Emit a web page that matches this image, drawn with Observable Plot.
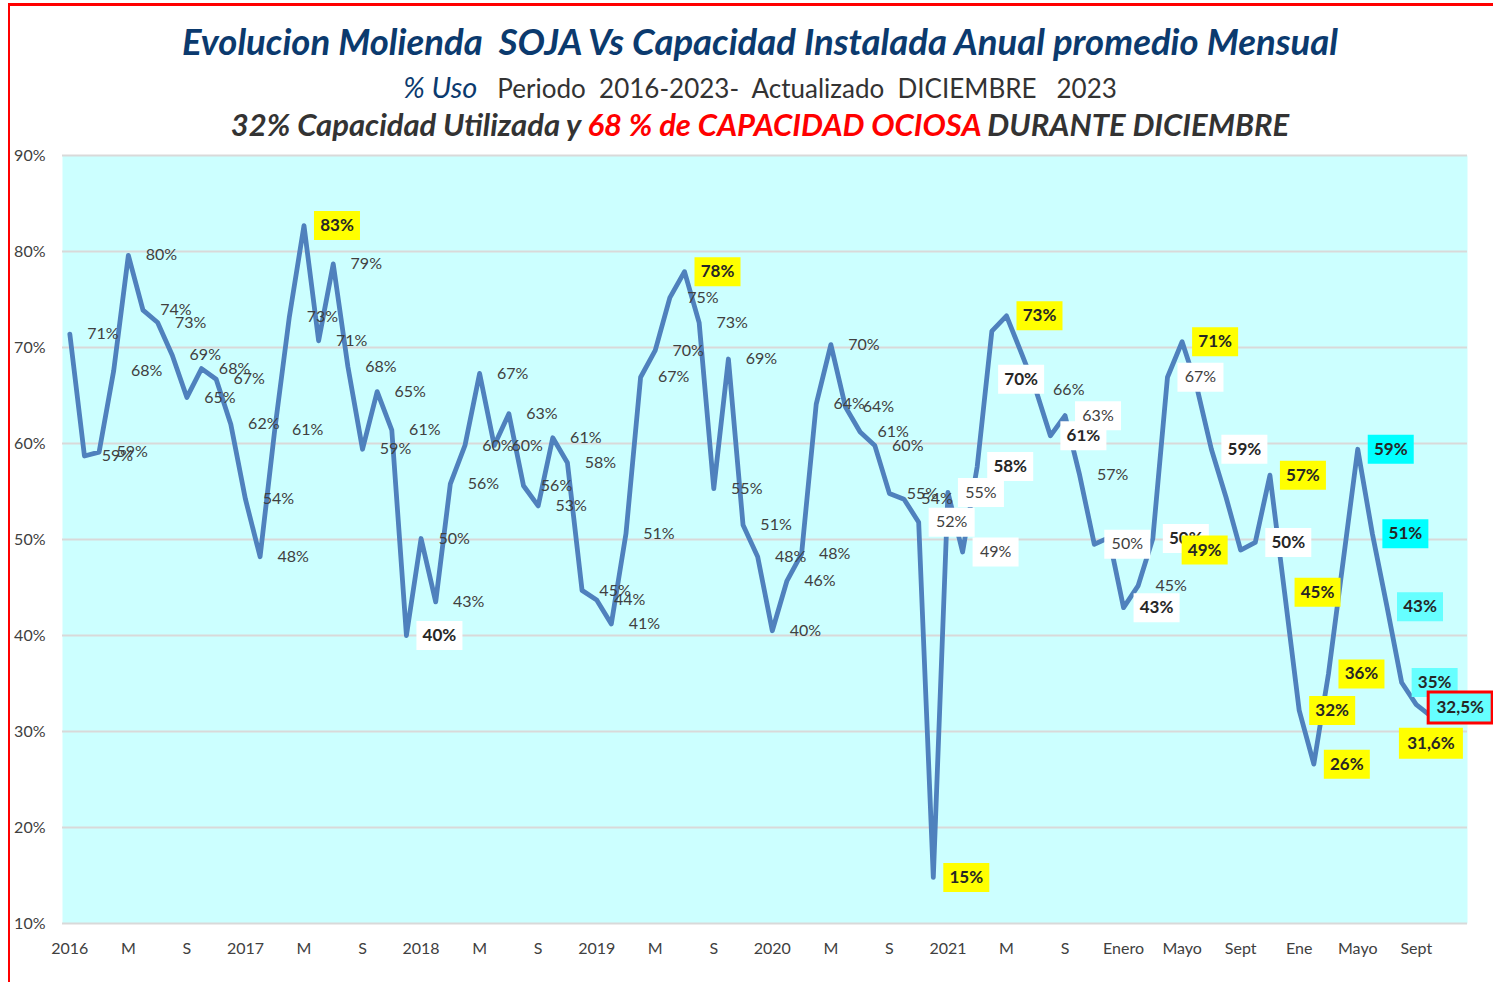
<!DOCTYPE html>
<html>
<head>
<meta charset="utf-8">
<script src="https://cdn.jsdelivr.net/npm/d3@7"></script>
<script src="https://cdn.jsdelivr.net/npm/@observablehq/plot@0.6"></script>
<style>
  html, body { margin: 0; padding: 0; background: #fff; }
  #page { position: relative; width: 1493px; height: 982px; overflow: hidden; font-family: Lato, "Open Sans", sans-serif; }
  .bar-top { position: absolute; left: 8px; top: 3px; width: 1485px; height: 2.5px; background: #ff0000; }
  .bar-left { position: absolute; left: 7.5px; top: 3px; width: 2.5px; height: 979px; background: #ff0000; }
  .t { position: absolute; left: 0; width: 1520px; text-align: center; white-space: pre; line-height: 1.2; }
  #t1 { top: 20px; font-size: 36.5px; font-weight: 700; font-style: italic; color: #0b3a6e; }
  #t2 { top: 70px; font-size: 26px; color: #333; }
  #t2 .uso { font-style: italic; color: #0b3a6e; font-size: 29px; }
  #t3 { top: 106px; font-size: 31px; font-weight: 700; font-style: italic; color: #333; }
  #t3 .red { color: #ff0000; }
  #chart { position: absolute; left: 0; top: 140px; }
</style>
</head>
<body>
<div id="page">
  <div class="bar-top"></div>
  <div class="bar-left"></div>
  <div class="t" id="t1">Evolucion Molienda  SOJA Vs Capacidad Instalada Anual promedio Mensual</div>
  <div class="t" id="t2"><span class="uso">% Uso</span>   Periodo  2016-2023-  Actualizado  DICIEMBRE   2023</div>
  <div class="t" id="t3">32% Capacidad Utilizada y <span class="red">68 % de CAPACIDAD OCIOSA</span> DURANTE DICIEMBRE</div>
  <div id="chart"></div>
</div>
<script>
// Monthly soybean crushing capacity use (%), Jan 2016 .. Dec 2023
const usoMensual = [
  71.4, 58.7, 59.1, 67.6, 79.6, 73.9, 72.6, 69.2, 64.8, 67.8, 66.7, 62.0,
  54.2, 48.2, 61.4, 73.2, 82.7, 70.7, 78.7, 68.0, 59.4, 65.4, 61.4, 40.0,
  50.1, 43.5, 55.8, 59.8, 67.3, 59.8, 63.1, 55.6, 53.5, 60.6, 58.0, 44.7,
  43.7, 41.2, 50.6, 66.9, 69.7, 75.2, 77.9, 72.6, 55.3, 68.8, 51.5, 48.2,
  40.5, 45.7, 48.5, 64.1, 70.3, 63.8, 61.2, 59.8, 54.8, 54.2, 51.8, 14.8,
  54.9, 48.7, 57.6, 71.7, 73.3, 69.5, 65.6, 60.8, 62.9, 56.7, 49.5, 50.2,
  42.9, 45.2, 50.1, 66.9, 70.6, 65.9, 59.4, 54.4, 48.9, 49.7, 56.7, 44.5,
  32.2, 26.6, 36.0, 47.7, 59.4, 50.6, 43.0, 35.1, 32.8, 31.6, 32.0, 32.5
];
// Data labels as printed on the chart ("" = no visible label)
const etiquetas = [
  "71%","59%","59%","68%","80%","74%","73%","69%","65%","68%","67%","62%",
  "54%","48%","61%","73%","83%","71%","79%","68%","59%","65%","61%","40%",
  "50%","43%","56%","60%","67%","60%","63%","56%","53%","61%","58%","45%",
  "44%","41%","51%","67%","70%","75%","78%","73%","55%","69%","51%","48%",
  "40%","46%","48%","64%","70%","64%","61%","60%","55%","54%","52%","15%",
  "55%","49%","58%","","73%","70%","66%","61%","63%","57%","50%","",
  "43%","45%","50%","67%","71%","","59%","","49%","50%","57%","45%",
  "32%","26%","36%","","59%","51%","43%","35%","","31,6%","","32,5%"
];
// X axis tick labels, one every 4 months
const ejeXEtiquetas = ["2016","M","S","2017","M","S","2018","M","S","2019","M","S",
  "2020","M","S","2021","M","S","Enero","Mayo","Sept","Ene","Mayo","Sept"];
const ejeYTicks = [10, 20, 30, 40, 50, 60, 70, 80, 90];

// ---- presentation (styles of highlighted labels) ----
const Y = "#ffff00", W = "#ffffff", C = "#00ffff", LC = "#66ffff";
const boxStyle = {
  16:{fill:Y,bold:1}, 23:{fill:W,bold:1}, 42:{fill:Y,bold:1},
  58:{fill:W}, 59:{fill:Y,bold:1}, 60:{fill:W}, 61:{fill:W}, 62:{fill:W,bold:1},
  64:{fill:Y,bold:1}, 65:{fill:W,bold:1,pos:"below"}, 67:{fill:W,bold:1}, 68:{fill:W},
  70:{fill:W}, 72:{fill:W,bold:1}, 74:{fill:W,bold:1}, 75:{fill:W}, 76:{fill:Y,bold:1},
  78:{fill:W,bold:1}, 80:{fill:Y,bold:1,pos:"left"}, 81:{fill:W,bold:1}, 82:{fill:Y,bold:1},
  83:{fill:Y,bold:1}, 84:{fill:Y,bold:1}, 85:{fill:Y,bold:1}, 86:{fill:Y,bold:1},
  88:{fill:C,bold:1}, 89:{fill:C,bold:1}, 90:{fill:LC,bold:1}, 91:{fill:LC,bold:1},
  93:{fill:Y,bold:1,pos:"below",wide:1}, 95:{fill:LC,bold:1,pos:"center",wide:1,stroke:"#ff0000"}
};
const offsets = {right:[33,0], left:[-36,0], below:[0,27], center:[0,0]};
const boxSym = {draw(ctx){ ctx.rect(-23,-14.5,46,29); }};
const wideSym = {draw(ctx){ ctx.rect(-32,-15.5,64,31); }};

const data = usoMensual.map((v, i) => ({i, v}));
const tickIdx = ejeXEtiquetas.map((_, k) => k * 4);
const tickMap = new Map(tickIdx.map((d, k) => [d, ejeXEtiquetas[k]]));

const labelMarks = [];
etiquetas.forEach((t, i) => {
  if (!t) return;
  const st = boxStyle[i] || {};
  const [dx, dy] = offsets[st.pos || "right"];
  const d = [{i, v: usoMensual[i], t}];
  if (st.fill) {
    labelMarks.push(Plot.dot(d, {x: "i", y: "v", symbol: st.wide ? wideSym : boxSym, r: 10,
      fill: st.fill, stroke: st.stroke || "none", strokeWidth: st.stroke ? 3 : 0, dx, dy}));
  }
  labelMarks.push(Plot.text(d, {x: "i", y: "v", text: "t", dx, dy,
    fontSize: st.bold ? 17 : 16, fontWeight: st.bold ? 700 : 400,
    fill: st.bold ? "#262626" : "#404040"}));
});

const chart = Plot.plot({
  width: 1493,
  height: 842,
  marginLeft: 62,
  marginRight: 26,
  marginTop: 15,
  marginBottom: 59,
  style: {fontFamily: "Lato, 'Open Sans', sans-serif", color: "#404040", background: "transparent", overflow: "visible"},
  x: {domain: [-0.5, 95.5]},
  y: {domain: [10, 90]},
  marks: [
    Plot.frame({fill: "#ccffff", stroke: "none"}),
    Plot.ruleY(ejeYTicks, {stroke: "#d9d9d9", strokeWidth: 2}),
    Plot.axisY({ticks: ejeYTicks, tickSize: 0, tickPadding: 17, tickFormat: d => d + "%", fontSize: 16, label: null}),
    Plot.axisX({ticks: tickIdx, tickSize: 0, tickPadding: 19, tickFormat: d => tickMap.get(d), fontSize: 16, label: null}),
    Plot.line(data, {x: "i", y: "v", stroke: "#4f81bd", strokeWidth: 4.8, strokeLinejoin: "round", strokeLinecap: "round"}),
    ...labelMarks
  ]
});
document.getElementById("chart").appendChild(chart);
</script>
</body>
</html>
